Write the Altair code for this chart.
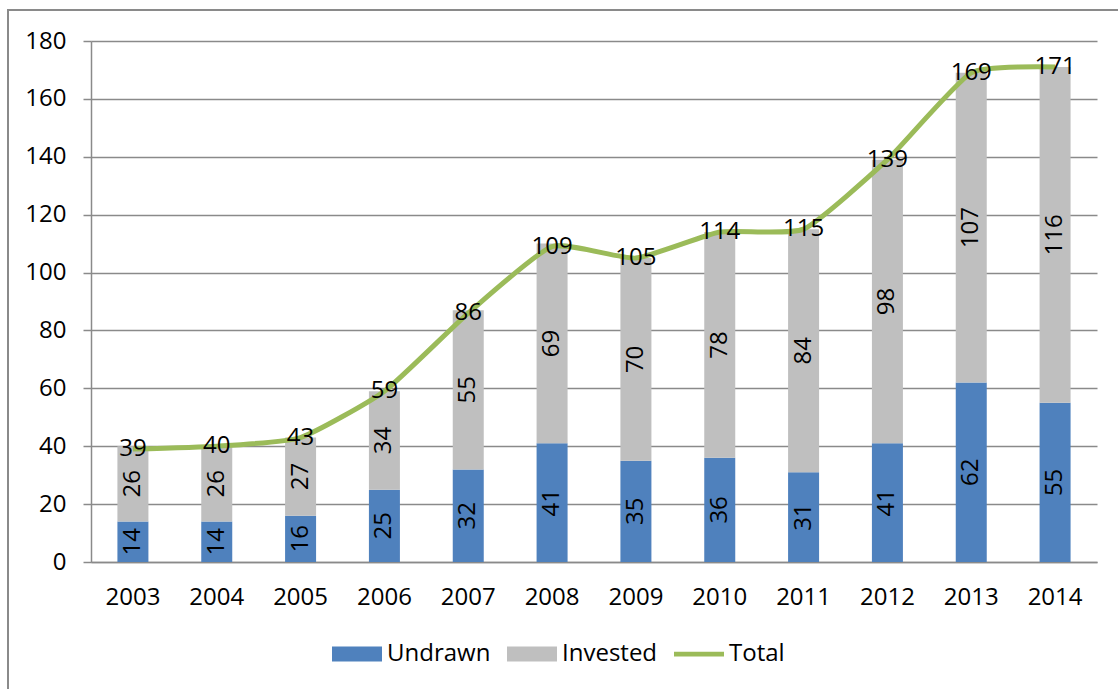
import altair as alt
import pandas as pd

# Fund commitments by year (EUR bn)
years = ["2003", "2004", "2005", "2006", "2007", "2008",
         "2009", "2010", "2011", "2012", "2013", "2014"]
undrawn = [14, 14, 16, 25, 32, 41, 35, 36, 31, 41, 62, 55]
invested = [26, 26, 27, 34, 55, 69, 70, 78, 84, 98, 107, 116]
total = [39, 40, 43, 59, 86, 109, 105, 114, 115, 139, 169, 171]

series_names = ["Undrawn", "Invested", "Total"]
series_colors = ["#4F81BD", "#BFBFBF", "#9BBB59"]

FONT = "Open Sans"
FS = 24
GRID = "#8a8a8a"

bars_df = pd.DataFrame(
    [{"year": y, "series": "Undrawn", "order": 0, "value": u} for y, u in zip(years, undrawn)]
    + [{"year": y, "series": "Invested", "order": 1, "value": v} for y, v in zip(years, invested)]
)
total_df = pd.DataFrame({"year": years, "total": total, "series": "Total"})

x_enc = alt.X(
    "year:N",
    sort=years,
    title=None,
    scale=alt.Scale(paddingInner=0.63, paddingOuter=0.315),
    axis=alt.Axis(labelAngle=0, ticks=False, labelPadding=23, labelFontSize=FS,
                  labelFont=FONT, labelColor="#000000", domainColor=GRID,
                  domainWidth=1.5, grid=False),
)
y_scale = alt.Scale(domain=[0, 180], nice=False)
color_scale = alt.Scale(domain=series_names, range=series_colors)

# wide swatch for the bar series, thin stroke for the Total line
wide = "M-1,-0.3H1V0.3H-1Z"
thin = "M-1,-0.095H1V0.095H-1Z"
legend = alt.Legend(
    title=None,
    orient="none",
    legendX=241,
    legendY=588,
    direction="horizontal",
    symbolType=alt.ExprRef(f"datum.value === 'Total' ? '{thin}' : '{wide}'"),
    symbolSize=2500,
    symbolStrokeWidth=0,
    symbolOpacity=1,
    labelFontSize=FS,
    labelFont=FONT,
    labelColor="#000000",
    labelOffset=5,
    columnPadding=16,
)

base = alt.Chart(bars_df)

bars = base.mark_bar(size=31).encode(
    x=x_enc,
    y=alt.Y(
        "value:Q",
        stack="zero",
        scale=y_scale,
        title=None,
        axis=alt.Axis(values=list(range(0, 181, 20)), tickSize=8, tickColor=GRID,
                      tickWidth=1.5, labelPadding=17, labelFontSize=FS, labelFont=FONT,
                      labelColor="#000000", domainColor=GRID, domainWidth=1.5,
                      gridColor=GRID, gridWidth=1.5),
    ),
    color=alt.Color("series:N", scale=color_scale, legend=legend),
    order=alt.Order("order:Q"),
)

seg_labels = base.transform_stack(
    stack="value", groupby=["year"], as_=["y0", "y1"],
    sort=[alt.SortField("order", order="ascending")],
).transform_calculate(
    mid="(datum.y0 + datum.y1) / 2"
).mark_text(angle=270, align="center", baseline="middle", fontSize=FS,
            font=FONT, color="#000000").encode(
    x=alt.X("year:N", sort=years),
    y=alt.Y("mid:Q", scale=y_scale),
    text=alt.Text("value:Q"),
)

line = alt.Chart(total_df).mark_line(strokeWidth=5, interpolate="cardinal", tension=0.5).encode(
    x=alt.X("year:N", sort=years),
    y=alt.Y("total:Q", scale=y_scale),
    color=alt.Color("series:N", scale=color_scale, legend=legend),
)

total_labels = alt.Chart(total_df).mark_text(
    align="center", baseline="middle", fontSize=FS, font=FONT, color="#000000"
).encode(
    x=alt.X("year:N", sort=years),
    y=alt.Y("total:Q", scale=y_scale),
    text=alt.Text("total:Q"),
)

frame = alt.Chart(total_df).mark_rect(
    fillOpacity=0, stroke=GRID, strokeWidth=2
).encode(
    x=alt.value(-83), x2=alt.value(1040),
    y=alt.value(-31), y2=alt.value(660),
)

chart = alt.layer(frame, bars, line, seg_labels, total_labels).properties(
    width=1006,
    height=521,
    padding={"left": 91, "top": 41, "right": 21, "bottom": 127},
    autosize=alt.AutoSizeParams(type="none"),
    background="#ffffff",
).configure_view(stroke=None)

chart.save("out.html", embed_options={"renderer": "svg", "actions": False})
